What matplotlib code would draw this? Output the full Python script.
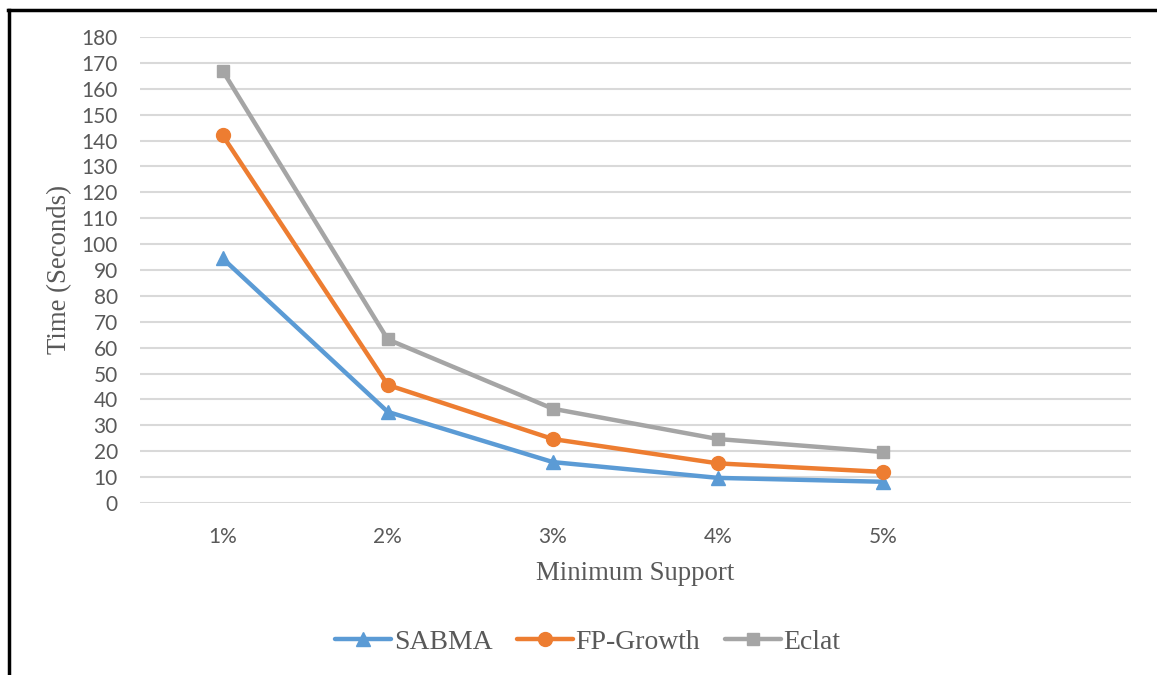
import matplotlib
matplotlib.use("Agg")
import matplotlib.pyplot as plt
from matplotlib.lines import Line2D

categories = ["1%", "2%", "3%", "4%", "5%", ""]
sabma = [94.5, 35.2, 15.8, 9.7, 8.2]
fp_growth = [142, 45.6, 24.7, 15.3, 12.0]
eclat = [167, 63.2, 36.4, 24.7, 19.7]
yticks = list(range(0, 181, 10))

W, H = 1157, 675
fig = plt.figure(figsize=(W / 100, H / 100), dpi=100)
ax = fig.add_axes([140 / W, 1 - 503 / H, (1131 - 140) / W, (503 - 37) / H])

tick_font = "Lato"
serif = "Liberation Serif"
tc = "#595959"

for y in yticks:
    ax.axhline(y, color="#D9D9D9", lw=1.5, zorder=1)

x = list(range(len(sabma)))
ax.plot(x, sabma, color="#5B9BD5", lw=3.2, marker="^", ms=10, zorder=3,
        solid_capstyle="round", label="SABMA")
ax.plot(x, fp_growth, color="#ED7D31", lw=3.2, marker="o", ms=10, zorder=3,
        solid_capstyle="round", label="FP-Growth")
ax.plot(x, eclat, color="#A5A5A5", lw=3.2, marker="s", ms=9, zorder=3,
        solid_capstyle="round", label="Eclat")

ax.set_xlim(-0.5, len(categories) - 0.5)
ax.set_ylim(0, 180)
ax.set_xticks(range(len(categories)))
ax.set_xticklabels(categories)
ax.set_yticks(yticks)
ax.tick_params(length=0, labelsize=15, labelcolor=tc)
ax.tick_params(axis="y", pad=16)
ax.tick_params(axis="x", pad=17)
for lab in ax.get_xticklabels() + ax.get_yticklabels():
    lab.set_fontfamily(tick_font)
for s in ax.spines.values():
    s.set_visible(False)

fig.text(635 / W, 1 - 573 / H, "Minimum Support", family=serif, fontsize=19.3,
         color=tc, ha="center", va="center")
fig.text(60 / W, 1 - 270 / H, "Time (Seconds)", family=serif, fontsize=19.3,
         color=tc, ha="center", va="center", rotation=90)

handles = [
    Line2D([], [], color="#5B9BD5", lw=3.2, marker="^", ms=10, solid_capstyle="round"),
    Line2D([], [], color="#ED7D31", lw=3.2, marker="o", ms=10, solid_capstyle="round"),
    Line2D([], [], color="#A5A5A5", lw=3.2, marker="s", ms=9, solid_capstyle="round"),
]
leg = fig.legend(handles, ["SABMA", "FP-Growth", "Eclat"], loc="center",
                 bbox_to_anchor=(588 / W, 1 - 642 / H), ncol=3, frameon=False,
                 prop={"family": serif, "size": 20}, handlelength=2.0,
                 handletextpad=0.1, columnspacing=0.9)
for t in leg.get_texts():
    t.set_color(tc)

fig.add_artist(Line2D([9 / W, 9 / W], [0, 1 - 10 / H], color="black", lw=2.5,
                      transform=fig.transFigure))
fig.add_artist(Line2D([8 / W, 1], [1 - 10 / H, 1 - 10 / H], color="black", lw=2.5,
                      transform=fig.transFigure))

fig.savefig("out.png", dpi=100)
